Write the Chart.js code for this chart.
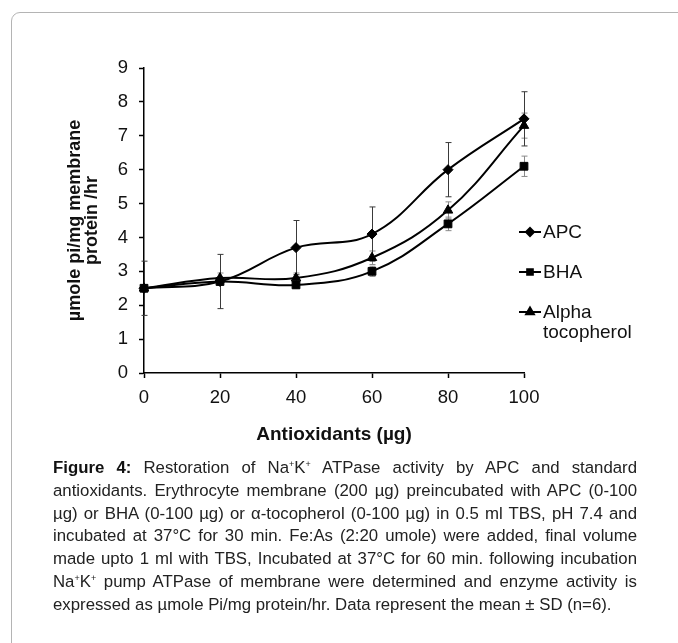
<!DOCTYPE html>
<html>
<head>
<meta charset="utf-8">
<script src="https://cdn.jsdelivr.net/npm/chart.js@4.4.1/dist/chart.umd.min.js"></script>
<style>
  body { margin: 0; background: #fff; width: 678px; height: 643px; overflow: hidden; position: relative; font-family: "Liberation Sans", Arial, sans-serif; }
  #frame { position: absolute; left: 11px; top: 12px; width: 720px; height: 700px; border: 1px solid #b4b4b4; border-radius: 9px; }
  #wrap { position: absolute; left: 0; top: 0; width: 678px; height: 460px; }
  #caption { position: absolute; left: 53px; top: 457px; width: 584px; font-size: 16.8px; line-height: 22.8px; color: #222; }
  #caption div { text-align: justify; text-align-last: justify; white-space: nowrap; }
  #caption div.last { text-align-last: left; }
  #caption b { color: #111; }
  sup { font-size: 9px; vertical-align: 6px; line-height: 0; }
</style>
</head>
<body>
<div id="frame"></div>
<div id="wrap"><canvas id="chartCanvas" width="678" height="460"></canvas></div>
<div id="caption">
<div><b>Figure 4:</b> Restoration of Na<sup>+</sup>K<sup>+</sup> ATPase activity by APC and standard</div>
<div>antioxidants. Erythrocyte membrane (200 µg) preincubated with APC (0-100</div>
<div>µg) or BHA (0-100 µg) or α-tocopherol (0-100 µg) in 0.5 ml TBS, pH 7.4 and</div>
<div>incubated at 37°C for 30 min. Fe:As (2:20 umole) were added, final volume</div>
<div>made upto 1 ml with TBS, Incubated at 37°C for 60 min. following incubation</div>
<div>Na<sup>+</sup>K<sup>+</sup> pump ATPase of membrane were determined and enzyme activity is</div>
<div class="last">expressed as µmole Pi/mg protein/hr. Data represent the mean ± SD (n=6).</div>
</div>
<script>
// doses (µg)
const doses = [0, 20, 40, 60, 80, 100];

// µmole pi/mg membrane protein /hr
const apc = [2.5, 2.7, 3.7, 4.1, 6.0, 7.5];
const bha = [2.5, 2.7, 2.6, 3.0, 4.4, 6.1];
const alpha = [2.5, 2.8, 2.8, 3.4, 4.8, 7.3];

// standard deviations
const apcSD = [0.8, 0.8, 0.8, 0.8, 0.8, 0.8];
const bhaSD = [0.1, 0.1, 0.1, 0.15, 0.2, 0.3];
const alphaSD = [0.1, 0.15, 0.15, 0.2, 0.25, 0.37];

const yTicks = [0, 1, 2, 3, 4, 5, 6, 7, 8, 9];

const seriesNames = ['APC', 'BHA', 'Alpha\ntocopherol'];
const markers = ['rectRot', 'rect', 'triangle'];

function toPoints(vals) {
    return doses.map((d, i) => ({ x: d, y: vals[i] }));
}

// error bars drawn from the SD arrays
const errorBars = {
    id: 'errorBars',
    beforeDatasetsDraw(chart) {
        const ctx = chart.ctx;
        const xs = chart.scales.x, ys = chart.scales.y;
        const sets = [[alpha, alphaSD, '#8a8a8a'], [bha, bhaSD, '#8a8a8a'], [apc, apcSD, '#3a3a3a']];
        ctx.save();
        ctx.lineWidth = 1;
        sets.forEach(([vals, sd, col]) => {
            ctx.strokeStyle = col;
            vals.forEach((v, i) => {
                const px = Math.round(xs.getPixelForValue(doses[i])) + 0.5;
                const top = ys.getPixelForValue(v + sd[i]);
                const bot = ys.getPixelForValue(v - sd[i]);
                ctx.beginPath();
                ctx.moveTo(px, top); ctx.lineTo(px, bot);
                ctx.moveTo(px - 3, top); ctx.lineTo(px + 3, top);
                ctx.moveTo(px - 3, bot); ctx.lineTo(px + 3, bot);
                ctx.stroke();
            });
        });
        ctx.restore();
    }
};

// legend at right, one entry per row
const sideLegend = {
    id: 'sideLegend',
    afterDraw(chart) {
        const ctx = chart.ctx;
        const rows = [232, 272, 312];
        ctx.save();
        ctx.font = '19px "Liberation Sans", Arial, sans-serif';
        ctx.textBaseline = 'middle';
        seriesNames.forEach((name, i) => {
            const y = rows[i];
            ctx.strokeStyle = '#000';
            ctx.lineWidth = 2;
            ctx.beginPath();
            ctx.moveTo(519, y); ctx.lineTo(541, y);
            ctx.stroke();
            ctx.fillStyle = '#000';
            const r = [4, 4, 4.5][i];
            Chart.helpers.drawPoint(ctx, { pointStyle: markers[i], radius: r, borderWidth: 1 }, 530, y);
            ctx.fillStyle = '#111';
            name.split('\n').forEach((line, k) => ctx.fillText(line, 543, y + 1 + k * 20));
        });
        ctx.restore();
    }
};

const ctx = document.getElementById('chartCanvas').getContext('2d');
const myChart = new Chart(ctx, {
    type: 'line',
    data: {
        datasets: [
            { label: 'APC', data: toPoints(apc), pointStyle: 'rectRot', pointRadius: 5 },
            { label: 'BHA', data: toPoints(bha), pointStyle: 'rect', pointRadius: 5.5 },
            { label: 'Alpha tocopherol', data: toPoints(alpha), pointStyle: 'triangle', pointRadius: 5.5 }
        ].map(ds => Object.assign(ds, {
            borderColor: '#000',
            backgroundColor: '#000',
            pointBackgroundColor: '#000',
            pointBorderColor: '#000',
            pointBorderWidth: 1,
            borderWidth: 2,
            tension: 0.4,
            clip: false
        }))
    },
    options: {
        responsive: false,
        animation: false,
        layout: { padding: { left: 0, right: 154, top: 68, bottom: 0 } },
        plugins: { legend: { display: false }, tooltip: { enabled: false } },
        scales: {
            x: {
                type: 'linear',
                min: 0, max: 100,
                afterFit: s => { s.height = 87; },
                afterBuildTicks: s => { s.ticks = doses.map(v => ({ value: v })); },
                grid: { drawOnChartArea: false, tickLength: 5, color: '#000', tickWidth: 1.5 },
                border: { color: '#000', width: 1.5 },
                ticks: { padding: 9, color: '#111', font: { size: 18.5, family: '"Liberation Sans", Arial' } },
                title: {
                    display: true, text: 'Antioxidants (µg)', color: '#111',
                    font: { size: 19, weight: 'bold', family: '"Liberation Sans", Arial' },
                    padding: { top: 0, bottom: 13.5 }
                }
            },
            y: {
                min: 0, max: 9,
                afterFit: s => { s.width = 144; },
                afterBuildTicks: s => { s.ticks = yTicks.map(v => ({ value: v })); },
                grid: { drawOnChartArea: false, tickLength: 5, color: '#000', tickWidth: 1.5 },
                border: { color: '#000', width: 1.5 },
                ticks: { padding: 11, color: '#111', font: { size: 18.5, family: '"Liberation Sans", Arial' } },
                title: {
                    display: true, text: ['µmole pi/mg membrane', 'protein /hr'], color: '#111',
                    font: { size: 18, weight: 'bold', family: '"Liberation Sans", Arial', lineHeight: 0.95 },
                    padding: { top: 66.5, bottom: 0 }
                }
            }
        }
    },
    plugins: [errorBars, sideLegend]
});
</script>
</body>
</html>
